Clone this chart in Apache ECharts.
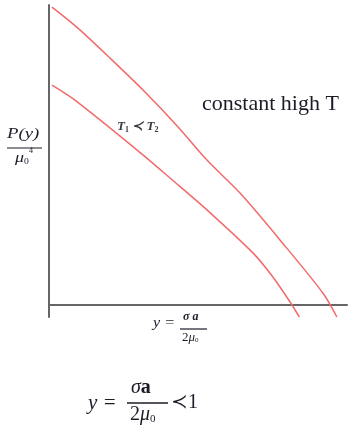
<!DOCTYPE html>
<html><head><meta charset="utf-8">
<script src="https://cdn.jsdelivr.net/npm/echarts@6/dist/echarts.min.js"></script>
<style>html,body{margin:0;padding:0;background:#fff}#c{width:354px;height:437px}</style>
</head><body><div id="c"></div>
<script>
// Curve values (x in axis units 0..10, y in axis units -0.4..10)
const upperX = [0.1, 0.97, 2.11, 3.22, 4.3, 5.3, 6.41, 7.75, 9.19, 9.66];
const upperY = [9.93, 9.23, 8.17, 7.1, 5.97, 4.83, 3.73, 2.17, 0.4, -0.4];
const lowerX = [0.1, 0.87, 2.95, 4.1, 5.3, 6.85, 7.5, 8.09, 8.4];
const lowerY = [7.33, 6.83, 5.17, 4.2, 3.17, 1.73, 0.95, 0.1, -0.4];

const xMin = 0, xMax = 10, yMin = -0.4, yMax = 10;
const serif = '"Liberation Serif","DejaVu Serif",serif';
const ink = '#1c1c28';
const curveColor = '#f26a6a';

function pairs(xs, ys){ return xs.map((x,i)=>[x, ys[i]]); }

const chart = echarts.init(document.getElementById('c'));
chart.setOption({
  animation:false,
  backgroundColor:'#fff',
  grid:{left:49, top:5, width:298, height:312},
  xAxis:{type:'value', min:xMin, max:xMax,
    axisLine:{show:true, onZero:true, lineStyle:{color:'#666', width:2}},
    axisTick:{show:false}, axisLabel:{show:false}, splitLine:{show:false}},
  yAxis:{type:'value', min:yMin, max:yMax,
    axisLine:{show:true, lineStyle:{color:'#666', width:2}},
    axisTick:{show:false}, axisLabel:{show:false}, splitLine:{show:false}},
  series:[
    {type:'line', data:pairs(upperX, upperY), smooth:0.3, showSymbol:false,
     lineStyle:{color:curveColor, width:1.5}},
    {type:'line', data:pairs(lowerX, lowerY), smooth:0.3, showSymbol:false,
     lineStyle:{color:curveColor, width:1.5}}
  ],
  graphic:[
    {type:'text', left:202, top:93, style:{text:'constant high T', font:'22px '+serif, fill:ink}},
    {type:'text', left:117, top:120, style:{
      text:'{i|T}{s|1} {i|≺ T}{s|2}',
      rich:{i:{font:'italic bold 13px '+serif, fill:'#3a3a44'}, s:{font:'bold 8px '+serif, fill:'#3a3a44', padding:[7,0,0,0]}}}},
    // y label fraction
    {type:'text', x:7, y:127, scaleX:1.25, style:{text:'P(y)', font:'italic 15px '+serif, fill:ink}},
    {type:'line', shape:{x1:7, y1:148, x2:42, y2:148}, style:{stroke:ink, lineWidth:1.2}},
    {type:'text', x:15, y:151, scaleX:1.2, style:{
      text:'{i|μ}{s|0}', rich:{i:{font:'italic 15px '+serif, fill:ink}, s:{font:'8px '+serif, fill:ink, padding:[7,0,0,0]}}}},
    {type:'text', left:29, top:147, style:{text:'4', font:'8px '+serif, fill:ink}},
    // x label
    {type:'text', x:153, y:316, scaleX:1.15, style:{text:'y =', font:'italic 14px '+serif, fill:ink}},
    {type:'text', left:183, top:311, style:{text:'σ a', font:'italic bold 12px '+serif, fill:ink}},
    {type:'line', shape:{x1:180, y1:329, x2:207, y2:329}, style:{stroke:ink, lineWidth:1.2}},
    {type:'text', left:182, top:331, style:{
      text:'{n|2}{i|μ}{s|0}', rich:{n:{font:'13px '+serif, fill:ink}, i:{font:'italic 13px '+serif, fill:ink}, s:{font:'7px '+serif, fill:ink, padding:[5,0,0,0]}}}},
    // bottom formula
    {type:'text', left:88, top:393, style:{text:'y =', font:'italic 21px '+serif, fill:ink}},
    {type:'text', left:131, top:378, style:{
      text:'{i|σ}{n|a}', rich:{i:{font:'italic 20px '+serif, fill:ink}, n:{font:'bold 20px '+serif, fill:ink}}}},
    {type:'line', shape:{x1:127, y1:403, x2:168, y2:403}, style:{stroke:ink, lineWidth:1.5}},
    {type:'text', left:130, top:405, style:{
      text:'{n|2}{i|μ}{s|0}', rich:{n:{font:'20px '+serif, fill:ink}, i:{font:'italic 20px '+serif, fill:ink}, s:{font:'11px '+serif, fill:ink, padding:[8,0,0,0]}}}},
    {type:'text', left:171, top:393, style:{text:'≺1', font:'20px '+serif, fill:ink}}
  ]
});
</script></body></html>
